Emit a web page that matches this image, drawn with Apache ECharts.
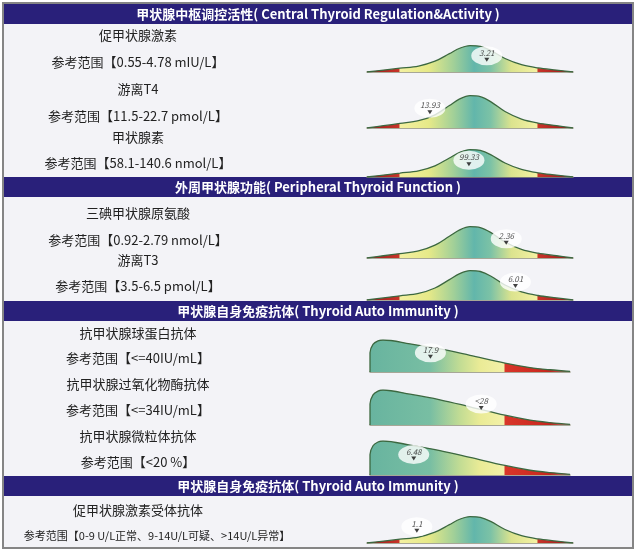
<!DOCTYPE html>
<html><head><meta charset="utf-8">
<script src="https://cdn.jsdelivr.net/npm/echarts@6/dist/echarts.min.js"></script>
<style>html,body{margin:0;padding:0;background:#fff}#c{width:640px;height:554px}</style>
</head><body><div id="c"></div>
<script>
// ---------- data ----------
const sectionTitles = [
  '甲状腺中枢调控活性( Central Thyroid Regulation&Activity )',
  '外周甲状腺功能( Peripheral Thyroid Function )',
  '甲状腺自身免疫抗体( Thyroid Auto Immunity )',
  '甲状腺自身免疫抗体( Thyroid Auto Immunity )'
];
const testNames = ['促甲状腺激素','游离T4','甲状腺素','三碘甲状腺原氨酸','游离T3',
  '抗甲状腺球蛋白抗体','抗甲状腺过氧化物酶抗体','抗甲状腺微粒体抗体','促甲状腺激素受体抗体'];
const rangeLabels = ['参考范围【0.55-4.78 mIU/L】','参考范围【11.5-22.7 pmol/L】','参考范围【58.1-140.6 nmol/L】',
  '参考范围【0.92-2.79 nmol/L】','参考范围【3.5-6.5 pmol/L】','参考范围【<=40IU/mL】','参考范围【<=34IU/mL】',
  '参考范围【<20 %】','参考范围【0-9 U/L正常、9-14U/L可疑、>14U/L异常】'];
const refLow  = [0.55, 11.5, 58.1, 0.92, 3.5, 0, 0, 0, 0];
const refHigh = [4.78, 22.7, 140.6, 2.79, 6.5, 40, 34, 20, 9];
const resultValues = [3.21, 13.93, 99.33, 2.36, 6.01, 17.9, 28, 6.48, 1.1];
const resultLabels = ['3.21','13.93','99.33','2.36','6.01','17.9','<28','6.48','1.1'];
const curveKinds = ['bell','bell','bell','bell','bell','skew','skew','skew','bell'];
// curve outlines: [position across curve (0-1), relative height]
const bellProfile = [[0,0],[0.08,0.07],[0.16,0.14],[0.25,0.22],[0.33,0.4],[0.4,0.68],[0.45,0.88],
  [0.5,0.98],[0.55,0.95],[0.6,0.8],[0.67,0.5],[0.75,0.27],[0.83,0.15],[0.92,0.07],[1,0]];
const skewProfile = [[0,0],[0,0.6],[0.015,0.86],[0.04,0.97],[0.065,1],[0.2,0.88],[0.35,0.72],
  [0.5,0.52],[0.675,0.28],[0.8,0.14],[0.9,0.07],[1,0.02]];

// ---------- layout / style ----------
const FONT = "'Noto Sans CJK SC','Noto Sans',sans-serif";
const headerY = [4, 177, 301, 476];
const rowLayout = [ // titleY, rangeY, curveTop, curveBottom
  [35,62,45,72],[89,116,95,128],[137,163,149,177],[213,240,226,258],[260,286,270,300],
  [333,358,340,372],[384,410,390,425],[436,462,441,475],[510,536,516,543]];
const BELL_L = 0.16, BELL_R = 0.83, SKEW_R = 0.675;
const bellGrad = [[0,'#981818'],[0.155,'#c8342a'],[0.16,'#f3f0a0'],[0.3,'#e6e988'],[0.42,'#a2d098'],
  [0.52,'#62b6ab'],[0.6,'#7cc2a6'],[0.7,'#dbe38e'],[0.825,'#f4f1a2'],[0.83,'#c8342a'],[1,'#981818']];
const skewGrad = [[0,'#68b49f'],[0.3,'#78bea3'],[0.45,'#c2dc94'],[0.55,'#eaeb96'],[0.67,'#f3f1a8'],
  [0.675,'#d8362a'],[0.85,'#cc2a20'],[1,'#b01a16']];
const ellipsePath = 'path://M0,50A50,50 0 1,1 100,50A50,50 0 1,1 0,50Z';

const grids = [], xAxes = [], yAxes = [], series = [], graphics = [];
graphics.push({type:'rect', shape:{x:3,y:3,width:630,height:545},
  style:{fill:'#f3f3f7', stroke:'#858585', lineWidth:2}, z:-10});
headerY.forEach((y, k) => {
  graphics.push({type:'rect', shape:{x:4,y:y,width:628,height:20}, style:{fill:'#29207a'}, z:-5});
  graphics.push({type:'text', x:318, y:y+10, style:{text:sectionTitles[k], fill:'#fff', font:'bold 13px '+FONT,
    textAlign:'center', textVerticalAlign:'middle'}, z:-4});
});

testNames.forEach((name, i) => {
  const [ty, ry, top, bottom] = rowLayout[i];
  const bell = curveKinds[i] === 'bell';
  graphics.push({type:'text', x:138, y:ty, style:{text:name, fill:'#222', font:'13px '+FONT,
    textAlign:'center', textVerticalAlign:'middle'}, z:-4});
  graphics.push({type:'text', x: i === 8 ? 157 : 138, y:ry, style:{text:rangeLabels[i], fill:'#222',
    font:(i === 8 ? '11px ' : '13px ')+FONT, textAlign:'center', textVerticalAlign:'middle'}, z:-4});

  grids.push(bell ? {left:367, width:206, top:top, height:bottom-top}
                  : {left:370, width:200, top:top, height:bottom-top});
  let vmin, vmax;
  if (bell) {
    const span = (refHigh[i]-refLow[i])/(BELL_R-BELL_L);
    vmin = refLow[i] - BELL_L*span; vmax = vmin + span;
  } else { vmin = 0; vmax = refHigh[i]/SKEW_R; }
  xAxes.push({type:'value', gridIndex:i, min:0, max:1, axisLine:{show:true, lineStyle:{color:'#8e8e78', width:1.5}},
    axisTick:{show:false}, axisLabel:{show:false}, splitLine:{show:false}});
  xAxes.push({type:'value', gridIndex:i, min:vmin, max:vmax, show:false, splitLine:{show:false}});
  yAxes.push({type:'value', gridIndex:i, min:0, max:1, show:false, splitLine:{show:false}});

  series.push({type:'line', xAxisIndex:2*i, yAxisIndex:i, data: bell ? bellProfile : skewProfile,
    smooth:0.35, symbol:'none', silent:true,
    lineStyle:{color:'#3c6840', width:1.3},
    areaStyle:{opacity:1, color:new echarts.graphic.LinearGradient(0,0,1,0,
      (bell?bellGrad:skewGrad).map(s=>({offset:s[0], color:s[1]})))}});
  series.push({type:'scatter', xAxisIndex:2*i+1, yAxisIndex:i, data:[[resultValues[i],0.6]],
    symbol:ellipsePath, symbolSize:[31,19], itemStyle:{color:'#ffffff'}, z:5, silent:true,
    label:{show:true, position:'inside', offset:[0,-3], formatter:resultLabels[i],
      fontSize:8, fontStyle:'italic', color:'#222', fontFamily:FONT}});
  series.push({type:'scatter', xAxisIndex:2*i+1, yAxisIndex:i, data:[[resultValues[i],0.6]],
    symbol:'triangle', symbolRotate:180, symbolSize:[5,4], symbolOffset:[0,4],
    itemStyle:{color:'#111'}, z:6, silent:true});
});

const chart = echarts.init(document.getElementById('c'));
chart.setOption({animation:false, backgroundColor:'#ffffff', graphic:graphics,
  grid:grids, xAxis:xAxes, yAxis:yAxes, series:series});
</script></body></html>
